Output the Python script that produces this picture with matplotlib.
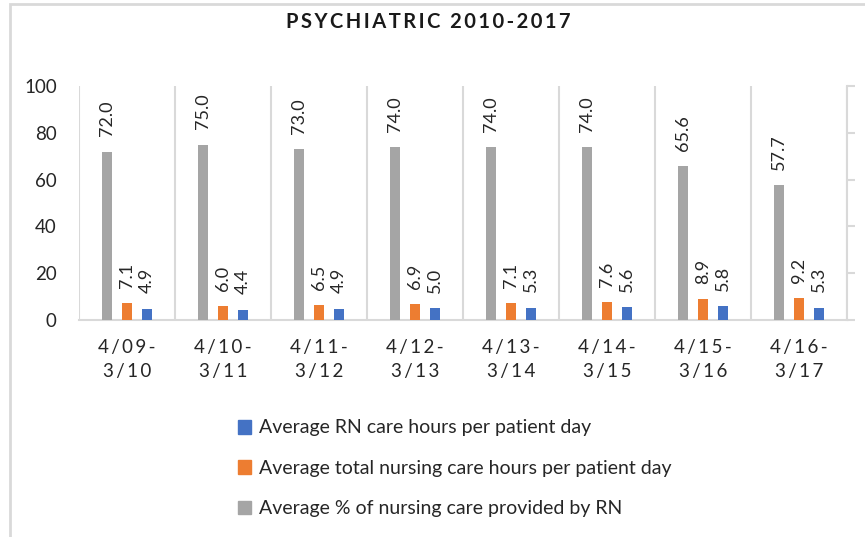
import matplotlib
matplotlib.use("Agg")
import matplotlib.pyplot as plt
import numpy as np
from matplotlib.patches import Rectangle, Patch

plt.rcParams['font.family'] = ['Lato', 'DejaVu Sans']

# data
periods = ["4/09 -\n3/10", "4/10 -\n3/11", "4/11 -\n3/12", "4/12 -\n3/13",
           "4/13 -\n3/14", "4/14 -\n3/15", "4/15 -\n3/16", "4/16 -\n3/17"]
pct_rn = [72.0, 75.0, 73.0, 74.0, 74.0, 74.0, 65.6, 57.7]
total_hours = [7.1, 6.0, 6.5, 6.9, 7.1, 7.6, 8.9, 9.2]
rn_hours = [4.9, 4.4, 4.9, 5.0, 5.3, 5.6, 5.8, 5.3]

c_blue = "#4472c4"
c_orange = "#ed7d31"
c_grey = "#a5a5a5"
txt = "#262626"
line = "#d9d9d9"


def spaced(s):
    # mimic the loose letter spacing of the original
    return "\n".join("\u2009".join(row.replace(" ", "")) for row in s.split("\n"))


fig = plt.figure(figsize=(8.65, 5.37), dpi=100)
ax = fig.add_axes([79/865, 1-320/537, (847-79)/865, (320-86)/537])

x = np.arange(len(periods))
w = 0.104
step = 0.208
series = [(pct_rn, c_grey, -step), (total_hours, c_orange, 0), (rn_hours, c_blue, step)]
for vals, col, off in series:
    bars = ax.bar(x + off, vals, width=w, color=col, zorder=3)
    for b, v in zip(bars, vals):
        ax.annotate(f"{v:.1f}", (b.get_x() + b.get_width()/2, v),
                    xytext=(0, 11), textcoords="offset points",
                    rotation=90, ha="center", va="bottom",
                    fontsize=13, color=txt)

ax.set_xlim(-0.5, len(periods) - 0.5)
ax.set_ylim(0, 100)
ax.set_yticks(range(0, 101, 20))
ax.set_xticks(x)
ax.set_xticklabels([spaced(p) for p in periods], fontsize=13.5, color=txt, linespacing=1.45)
ax.tick_params(axis="x", length=0, pad=14)
ax.tick_params(axis="y", length=0, pad=16, labelsize=13.5, labelcolor=txt)

# vertical separators between periods
for b in np.arange(-0.5, len(periods), 1.0):
    ax.axvline(b, color=line, lw=1.5, zorder=1)

for s in ["top", "left", "right"]:
    ax.spines[s].set_visible(False)
ax.spines["bottom"].set_color(line)
ax.spines["bottom"].set_linewidth(1.5)

# empty secondary axis on the right
ax2 = ax.twinx()
ax2.set_ylim(0, 100)
ax2.set_yticks(range(0, 101, 20))
ax2.set_yticklabels([])
ax2.tick_params(axis="y", direction="out", length=6, color=line, width=1.5)
for s in ["top", "left", "bottom"]:
    ax2.spines[s].set_visible(False)
ax2.spines["right"].set_color(line)
ax2.spines["right"].set_linewidth(1.5)

fig.text(428/865, 1-22/537, spaced("PSYCHIATRIC") + "  " + spaced("2010-2017"),
         ha="center", va="center", fontsize=14.5, fontweight="bold", color="#1a1a1a")

handles = [Patch(color=c_blue), Patch(color=c_orange), Patch(color=c_grey)]
labels = ["Average RN care hours per patient day",
          "Average total nursing care hours per patient day",
          "Average % of nursing care provided by RN"]
fig.legend(handles, labels, loc="upper left", bbox_to_anchor=(220/865, 1-402/537),
           frameon=False, fontsize=14, handlelength=0.7, handleheight=0.7,
           handletextpad=0.4, labelspacing=1.2, labelcolor=txt)

# chart frame (only left and top edges visible)
fig.patches.append(Rectangle((10/865, -0.1), 1.2, 1.1 - 4/537, transform=fig.transFigure,
                             fill=False, edgecolor=line, lw=2))

fig.savefig("out.png", dpi=100)
